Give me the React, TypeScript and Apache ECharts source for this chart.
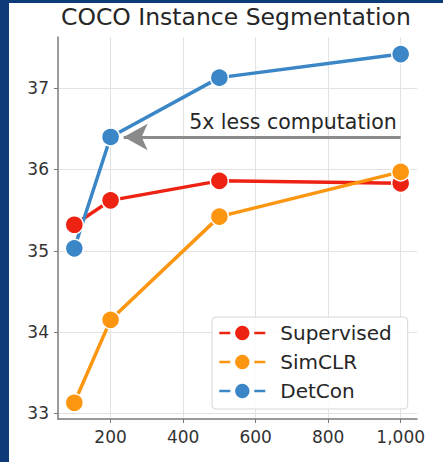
import React, { useEffect, useRef } from "react";
import * as echarts from "echarts";

const titleText = "COCO Instance Segmentation";
const xValues = [100, 200, 500, 1000];
const supervised = [35.32, 35.62, 35.86, 35.83];
const simclr = [33.13, 34.15, 35.42, 35.97];
const detcon = [35.03, 36.4, 37.13, 37.42];
const seriesNames = ["Supervised", "SimCLR", "DetCon"];
const xTicks = [200, 400, 600, 800, 1000];
const yTicks = [33, 34, 35, 36, 37];
const arrowFrom = [1000, 36.4];
const arrowTo = [236, 36.4];
const arrowText = "5x less computation";

const FONT = "DejaVu Sans";
const COLORS = ["#ee2212", "#fc950f", "#3a86c6"];

function pairs(ys: number[]) {
  return xValues.map((x, i) => [x, ys[i]]);
}

export default function App() {
  const ref = useRef<HTMLDivElement>(null);
  useEffect(() => {
    if (!ref.current) return;
    const chart = echarts.init(ref.current, null, { renderer: "svg" });
    const mk = (name: string, ys: number[], color: string, extra: any = {}) => ({
      name,
      type: "line",
      data: pairs(ys),
      symbol: "circle",
      symbolSize: 18,
      lineStyle: { width: 3.5, color },
      itemStyle: { color, borderColor: "#ffffff", borderWidth: 1.5 },
      emphasis: { disabled: true },
      ...extra,
    });
    chart.setOption({
      animation: false,
      backgroundColor: "#ffffff",
      title: {
        text: titleText,
        left: 61,
        top: 5,
        padding: 0,
        textStyle: { fontFamily: FONT, fontSize: 23.5, fontWeight: "normal", color: "#262626" },
      },
      grid: { left: 58, right: 26, top: 37, bottom: 43, containLabel: false },
      xAxis: {
        type: "value",
        min: 55,
        max: 1045,
        axisLine: { show: true, lineStyle: { color: "#7a7a7a", width: 1.5 } },
        axisTick: { show: true, length: 4, customValues: xTicks, lineStyle: { color: "#7a7a7a" } },
        axisLabel: {
          customValues: xTicks,
          margin: 9,
          fontFamily: FONT,
          fontSize: 17,
          color: "#333333",
          formatter: (v: number) => v.toLocaleString("en-US"),
        },
        splitLine: { show: true, lineStyle: { color: "#e2e2e2", width: 1 } },
      },
      yAxis: {
        type: "value",
        min: 32.93,
        max: 37.63,
        axisLine: { show: true, lineStyle: { color: "#7a7a7a", width: 1.5 } },
        axisTick: { show: true, length: 4, customValues: yTicks, lineStyle: { color: "#7a7a7a" } },
        axisLabel: {
          customValues: yTicks,
          margin: 9,
          fontFamily: FONT,
          fontSize: 17,
          color: "#333333",
        },
        splitLine: { show: true, lineStyle: { color: "#e2e2e2", width: 1 } },
      },
      legend: {
        data: seriesNames,
        orient: "vertical",
        left: 212,
        top: 317,
        itemWidth: 46,
        itemHeight: 18,
        itemGap: 9,
        padding: [6, 16, 8, 6],
        backgroundColor: "rgba(255,255,255,0.85)",
        borderColor: "#d6d6d6",
        borderWidth: 1,
        borderRadius: 4,
        itemStyle: { borderWidth: 0 },
        lineStyle: { width: 2.6, type: [11, 24] },
        textStyle: { fontFamily: FONT, fontSize: 20, color: "#262626", padding: [0, 0, 0, 10] },
        selectedMode: false,
      },
      graphic: [
        { type: "rect", shape: { x: 0, y: 0, width: 9, height: 462 }, style: { fill: "#0c3b78" }, z: 100 },
        { type: "rect", shape: { x: 0, y: 0, width: 443, height: 3 }, style: { fill: "#0c3b78" }, z: 100 },
      ],
      series: [
        mk(seriesNames[0], supervised, COLORS[0]),
        mk(seriesNames[1], simclr, COLORS[1]),
        mk(seriesNames[2], detcon, COLORS[2], {
          markLine: {
            silent: true,
            animation: false,
            lineStyle: { color: "#8a8a8a", width: 3, type: "solid" },
            label: {
              show: true,
              position: "insideStartTop",
              formatter: arrowText,
              fontFamily: FONT,
              fontSize: 20.5,
              color: "#262626",
              distance: 4,
            },
            data: [
              [
                { coord: arrowFrom, symbol: "none" },
                { coord: arrowTo, symbol: "arrow", symbolSize: [20, 24] },
              ],
            ],
          },
        }),
      ],
    });
    return () => chart.dispose();
  }, []);
  return (
    <div
      ref={ref}
      style={{ position: "fixed", left: 0, top: 0, width: 443, height: 462 }}
    />
  );
}
